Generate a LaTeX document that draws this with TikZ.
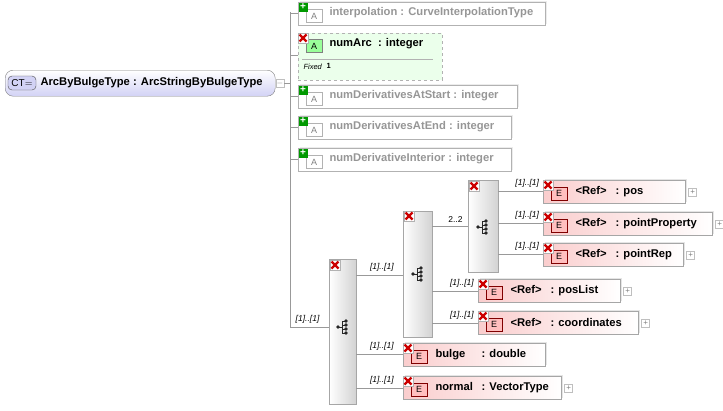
\documentclass[tikz,border=0pt]{standalone}
\usepackage{fontspec}
\setmainfont{Liberation Sans}
\usepackage{tikz}
\usetikzlibrary{positioning,shadows,calc}
\definecolor{attrgray}{RGB}{150,150,150}
\definecolor{elred}{RGB}{250,205,205}
\definecolor{ctblue}{RGB}{210,210,245}
\tikzset{
  elem/.style={draw=gray!70, left color=elred, right color=white, minimum height=23, inner sep=0, anchor=north west, drop shadow={shadow xshift=1.5, shadow yshift=-1.5, fill=gray!40}},
  attr/.style={draw=gray!60, fill=white, minimum height=23, anchor=north west, drop shadow={shadow xshift=1.5, shadow yshift=-1.5, fill=gray!30}},
  seq/.style={draw=gray!70, left color=white, right color=gray!35, anchor=north west, inner sep=0},
  mult/.style={font=\fontsize{8.5}{9}\selectfont\itshape, anchor=south},
  lbl/.style={anchor=west, font=\bfseries\fontsize{11.2}{13}\selectfont},
  link/.style={draw=gray!80, line width=0.6},
  badge/.style={draw=red!50!black, fill=red!25, font=\fontsize{9}{9}\selectfont, minimum width=16, minimum height=13, inner sep=0},
  plusbox/.style={draw=gray!50, fill=white, minimum size=8, inner sep=0, font=\fontsize{8}{8}\selectfont, text=gray}
}
\newcommand{\redx}[1]{%
  \fill[white, draw=gray!60] ($(#1)+(-5,-5)$) rectangle ($(#1)+(5,5)$);
  \draw[red!80!black, line width=2.3] ($(#1)+(-3.5,-3.5)$) -- ($(#1)+(3.5,3.5)$) ($(#1)+(-3.5,3.5)$) -- ($(#1)+(3.5,-3.5)$);
}
\newcommand{\seqicon}[1]{%
  \fill[gray!30!black] ($(#1)+(-5,0)$) circle (1.8);
  \draw[gray!30!black] ($(#1)+(-5,0)$) -- ($(#1)+(-1,0)$) ($(#1)+(-1,-6)$) -- ($(#1)+(-1,6)$);
  \foreach \yy in {-6,-2,2,6}{\fill[gray!30!black] ($(#1)+(3,\yy)$) circle (1.8); \draw[gray!30!black] ($(#1)+(-1,\yy)$) -- ($(#1)+(3,\yy)$);}
}
\newcommand{\element}[7]{% name, x, y, width, name text, gap, type text
  \node[elem, minimum width=#4] (#1) at (#2,#3) {};
  \node[badge, anchor=north west] at (#2+8,#3+7) {E};
  \redx{#2+5,#3+5}
  \node[lbl] at (#2+29,#3+11.5) {\makebox[#6pt][l]{#5}#7};
}
\begin{document}
\begin{tikzpicture}[x=1pt, y=-1pt]
\useasboundingbox (0,0) rectangle (723,410);
% root type
\node[draw=gray, rounded corners=8, top color=white, bottom color=ctblue, anchor=north west, minimum width=270, minimum height=26] (root) at (5,70) {};
\node[draw=gray!60!black, rounded corners=4, fill=ctblue, font=\fontsize{10}{10}\selectfont, inner sep=1, minimum width=28, minimum height=14] at (22,83) {CT$=$};
\node[lbl] at (37,83) {ArcByBulgeType : ArcStringByBulgeType};
\node[plusbox] (rootm) at (280,83) {$-$};
\draw[link] (rootm.east) -- (290,83);
\draw[link] (290,12) -- (290,327);
% attributes
\foreach \nm/\yy/\ww/\txt in {interp/2/247/{interpolation : CurveInterpolationType},
    start/85/219/{numDerivativesAtStart : integer},
    end/116/213/{numDerivativesAtEnd : integer},
    inter/148/213/{numDerivativeInterior : integer}}{
  \node[attr, minimum width=\ww] (\nm) at (298,\yy) {};
  \draw[link] (290,\yy+11) -- (298,\yy+11);
  \node[draw=gray!60, font=\fontsize{9}{9}\selectfont, text=gray, minimum width=16, minimum height=13, inner sep=0] at (314,\yy+14) {A};
  \node[fill=green!60!black, minimum size=9, inner sep=0] at (303,\yy+5) {};
  \node[text=white, font=\bfseries\fontsize{10}{10}\selectfont, inner sep=0] at (303,\yy+5) {+};
  \node[lbl, text=attrgray] at (326,\yy+11) {\txt};
}
% fixed attribute
\node[draw=gray!60, dashed, fill=green!8, anchor=north west, minimum width=144, minimum height=47] (numarc) at (298,33) {};
\draw[link] (290,55) -- (298,55);
\node[draw=gray, fill=green!40, font=\fontsize{9}{9}\selectfont, minimum width=16, minimum height=13, inner sep=0] at (314,46) {A};
\redx{303,38}
\node[lbl] at (326,44) {numArc\ \ : integer};
\draw[gray!60] (302,59) -- (433,59);
\node[anchor=west, font=\itshape\fontsize{7.5}{8}\selectfont] at (300,67) {Fixed};
\node[anchor=west, font=\bfseries\fontsize{7.5}{8}\selectfont] at (323,66) {1};
% sequences
\node[seq, minimum width=27, minimum height=145] (seqa) at (329,259) {};
\node[seq, minimum width=29, minimum height=126] (seqb) at (403,211) {};
\node[seq, minimum width=30, minimum height=92] (seqc) at (468,180) {};
\redx{335,265}
\redx{409,216}
\redx{474,186}
\seqicon{343,327}
\seqicon{418,274}
\seqicon{483,227}
% elements
\element{pos}{543}{180}{142}{<Ref>}{40}{: pos}
\element{pprop}{543}{212}{169}{<Ref>}{40}{: pointProperty}
\element{prep}{543}{243}{140}{<Ref>}{40}{: pointRep}
\element{plist}{478}{279}{142}{<Ref>}{40}{: posList}
\element{coord}{478}{311}{160}{<Ref>}{40}{: coordinates}
\element{bulge}{403}{343}{142}{bulge}{46}{: double}
\element{normal}{403}{376}{158}{normal}{46}{: VectorType}
\foreach \nm in {pos,pprop,prep,plist,coord,normal}{\node[plusbox, right=3 of \nm.east] {+};}
% connectors
\draw[link] (290,327) -- (seqa.west |- 0,327) node[mult, pos=0.45] {[1]..[1]};
\draw[link] (356,275) -- (403,275) node[mult, pos=0.55] {[1]..[1]};
\draw[link] (356,354) -- (bulge.west |- 0,354) node[mult, pos=0.55] {[1]..[1]};
\draw[link] (356,388) -- (normal.west |- 0,388) node[mult, pos=0.55] {[1]..[1]};
\draw[link] (432,226) -- (468,226) node[mult, pos=0.65, font=\fontsize{8.5}{9}\selectfont] {2..2};
\draw[link] (432,291) -- (plist.west |- 0,291) node[mult, pos=0.65] {[1]..[1]};
\draw[link] (432,323) -- (coord.west |- 0,323) node[mult, pos=0.65] {[1]..[1]};
\draw[link] (498,191) -- (pos.west |- 0,191) node[mult, pos=0.65] {[1]..[1]};
\draw[link] (498,223) -- (pprop.west |- 0,223) node[mult, pos=0.65] {[1]..[1]};
\draw[link] (498,254) -- (prep.west |- 0,254) node[mult, pos=0.65] {[1]..[1]};
\end{tikzpicture}
\end{document}
